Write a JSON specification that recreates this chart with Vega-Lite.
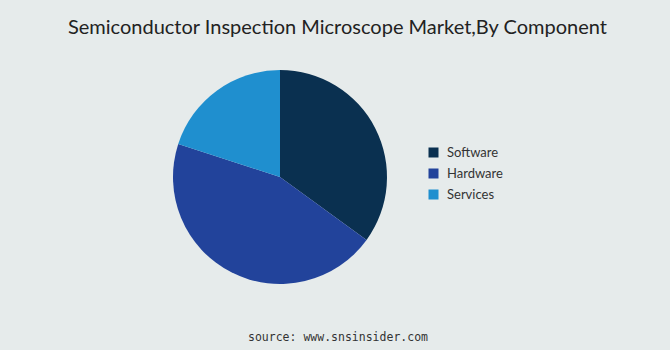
{
  "$schema": "https://vega.github.io/schema/vega-lite/v6.json",
  "background": "#e6ebeb",
  "padding": {"left": 0, "top": 18, "right": 64, "bottom": 8},
  "title": {
    "text": "source: www.snsinsider.com",
    "orient": "bottom",
    "anchor": "start",
    "frame": "group",
    "dx": 248,
    "font": "DejaVu Sans Mono",
    "fontSize": 11.5,
    "fontWeight": "normal",
    "color": "#333333",
    "offset": 48
  },
  "vconcat": [
    {
      "title": {
        "text": "Semiconductor Inspection Microscope Market,By Component",
        "anchor": "start",
        "frame": "group",
        "dx": 68,
        "font": "Lato",
        "fontSize": 20,
        "fontWeight": "normal",
        "color": "#222222",
        "offset": 32
      },
      "width": 560,
      "height": 214,
      "data": {
        "values": [
          {"component": "Software", "share": 35, "rank": 1},
          {"component": "Hardware", "share": 45, "rank": 2},
          {"component": "Services", "share": 20, "rank": 3}
        ]
      },
      "mark": {"type": "arc"},
      "encoding": {
        "theta": {"field": "share", "type": "quantitative", "stack": true},
        "order": {"field": "rank", "type": "quantitative"},
        "color": {
          "field": "component",
          "type": "nominal",
          "scale": {
            "domain": ["Software", "Hardware", "Services"],
            "range": ["#0a3050", "#22439b", "#1f8fcf"]
          },
          "legend": {
            "title": null,
            "orient": "none",
            "legendX": 427,
            "legendY": 76,
            "symbolType": "square",
            "symbolSize": 100,
            "symbolStrokeWidth": 0,
            "labelFont": "Lato",
            "labelFontSize": 13,
            "labelColor": "#333333",
            "labelOffset": 7,
            "rowPadding": 7
          }
        }
      }
    }
  ],
  "config": {"view": {"stroke": null}}
}
